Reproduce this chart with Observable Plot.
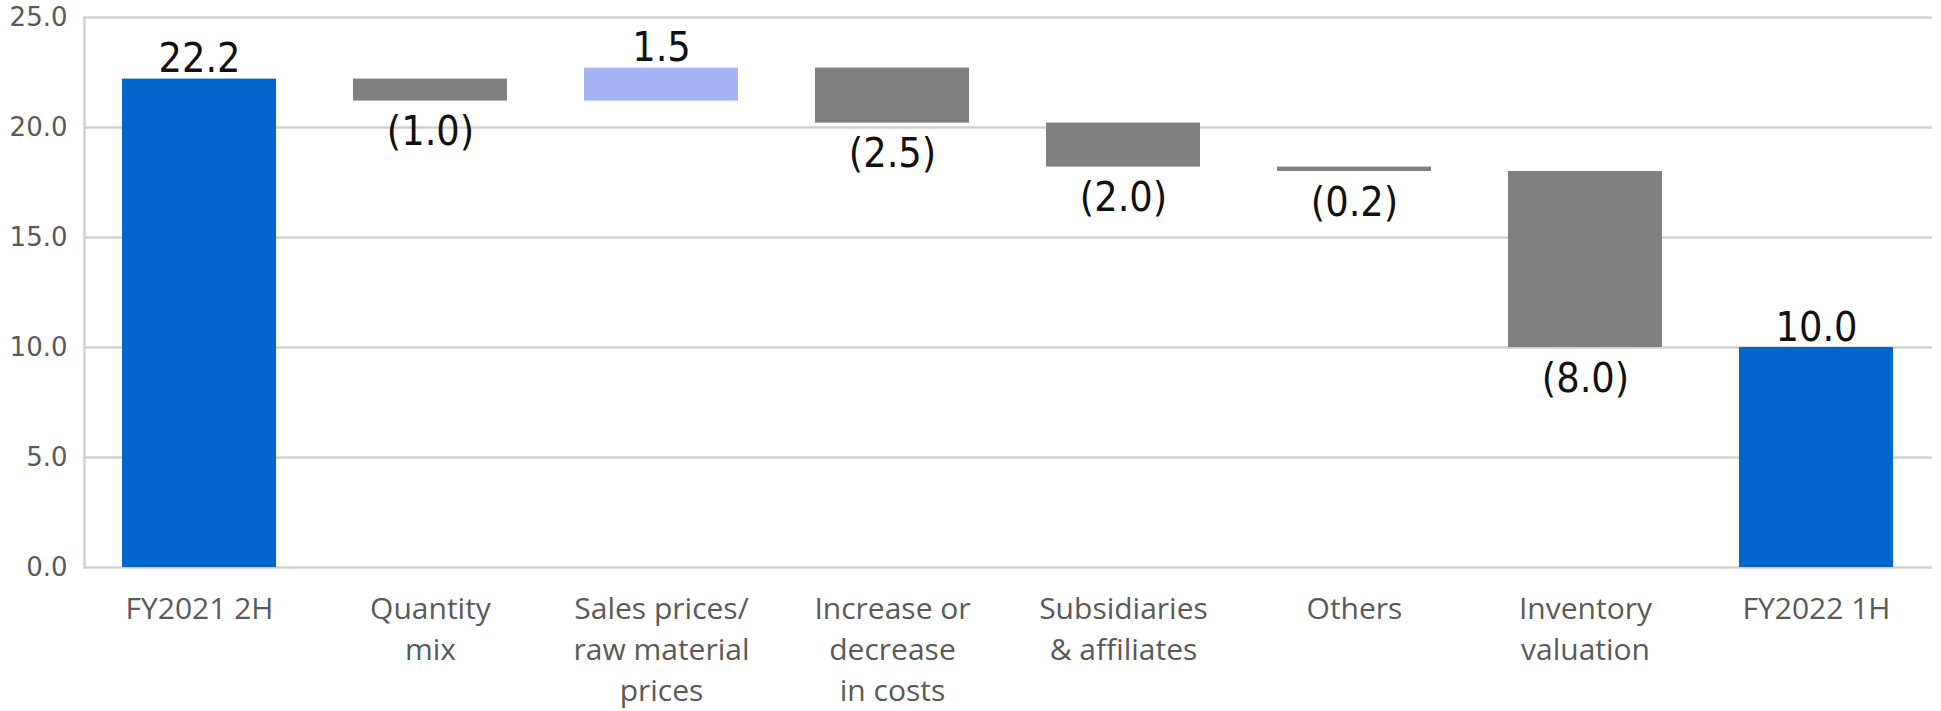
<!DOCTYPE html>
<html>
<head>
<meta charset="utf-8">
<script src="https://cdn.jsdelivr.net/npm/d3@7"></script>
<script src="https://cdn.jsdelivr.net/npm/@observablehq/plot@0.6"></script>
<style>
  html, body { margin: 0; padding: 0; background: #fff; overflow: hidden; }
  #chart svg { display: block; }
</style>
</head>
<body>
<div id="chart"></div>
<script>
const categories = [
  "FY2021 2H",
  "Quantity\nmix",
  "Sales prices/\nraw material\nprices",
  "Increase or\ndecrease\nin costs",
  "Subsidiaries\n& affiliates",
  "Others",
  "Inventory\nvaluation",
  "FY2022 1H"
];
const changes = [22.2, -1.0, 1.5, -2.5, -2.0, -0.2, -8.0, 10.0];
const kinds = ["total", "change", "change", "change", "change", "change", "change", "total"];
const valueLabels = ["22.2", "(1.0)", "1.5", "(2.5)", "(2.0)", "(0.2)", "(8.0)", "10.0"];
const yTicks = [0, 5, 10, 15, 20, 25];

// Build waterfall table from the arrays
let running = 0;
const rows = categories.map((c, i) => {
  let y1, y2;
  if (kinds[i] === "total") { y1 = 0; y2 = changes[i]; running = changes[i]; }
  else { y1 = running; y2 = running + changes[i]; running = y2; }
  const group = kinds[i] === "total" ? "total" : (changes[i] >= 0 ? "up" : "down");
  return {cat: c, y1, y2, top: Math.max(y1, y2), bottom: Math.min(y1, y2), label: valueLabels[i], group};
});

const chart = Plot.plot({
  width: 1941,
  height: 711,
  marginLeft: 84,
  marginRight: 9,
  marginTop: 17,
  marginBottom: 144,
  style: {background: "#fff", fontFamily: "DejaVu Sans, sans-serif"},
  x: {domain: categories, paddingInner: 0.333, paddingOuter: 0.1665, label: null},
  y: {domain: [0, 25], label: null},
  color: {domain: ["total", "up", "down"], range: ["#0066CC", "#A4B4F4", "#808080"]},
  marks: [
    Plot.gridY(yTicks, {stroke: "#d0d0d0", strokeOpacity: 1, strokeWidth: 2.5}),
    Plot.frame({anchor: "left", stroke: "#d0d0d0", strokeWidth: 2.5}),
    Plot.axisY(yTicks, {
      tickSize: 0, tickPadding: 17, tickFormat: d3.format(".1f"),
      fontSize: 26, fontFamily: "DejaVu Sans", color: "#595959", label: null
    }),
    Plot.axisX({
      tickSize: 0, tickPadding: 22, fontSize: 30, fontFamily: "Open Sans",
      lineHeight: 1.37, color: "#595959", label: null
    }),
    Plot.barY(rows, {x: "cat", y1: "y1", y2: "y2", fill: "group"}),
    Plot.text(rows.filter(d => d.group !== "down"), {
      x: "cat", y: "top", text: "label", lineAnchor: "bottom", dy: -7,
      fontSize: 41, fontFamily: "DejaVu Sans Condensed, DejaVu Sans", fill: "#111"
    }),
    Plot.text(rows.filter(d => d.group === "down"), {
      x: "cat", y: "bottom", text: "label", lineAnchor: "bottom", dy: 44,
      fontSize: 41, fontFamily: "DejaVu Sans Condensed, DejaVu Sans", fill: "#111"
    })
  ]
});
document.getElementById("chart").appendChild(chart);
</script>
</body>
</html>
